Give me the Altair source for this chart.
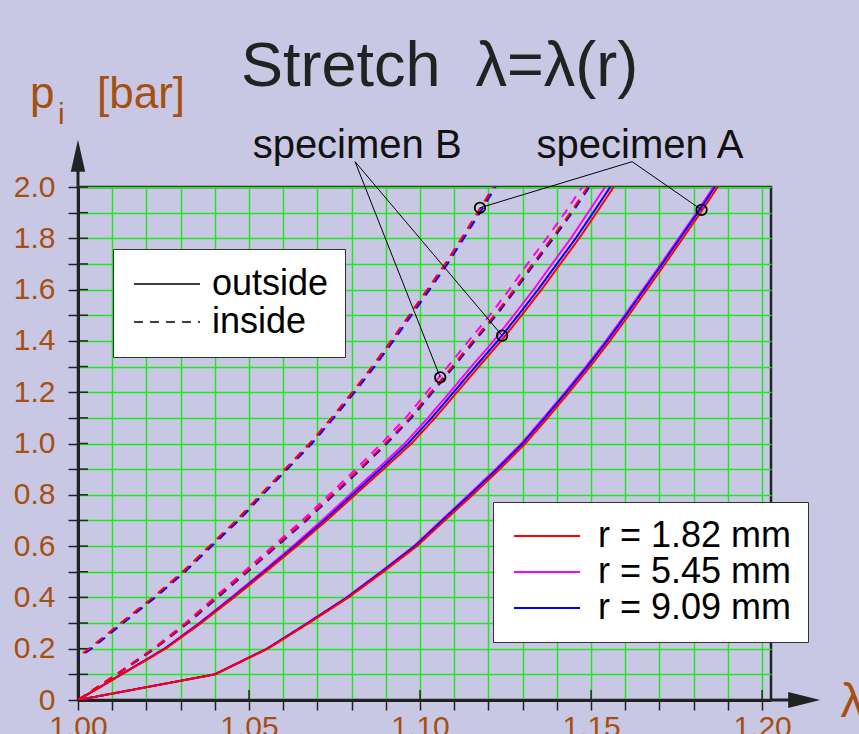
import altair as alt
import pandas as pd

# Inflation pressure p_i [bar] at which the stretch was evaluated
P = [0.0, 0.1, 0.2, 0.3, 0.4, 0.5, 0.6, 0.7, 0.8, 0.9, 1.0,
     1.1, 1.2, 1.3, 1.4, 1.5, 1.6, 1.7, 1.8, 1.9, 2.0]

RADII = ["r = 1.82 mm", "r = 5.45 mm", "r = 9.09 mm"]
RADIUS_COLORS = ["#ff0000", "#ff00ff", "#0000ff"]
SIDES = ["outside", "inside"]

# Stretch lambda per pressure step -- specimen A, inside surface
A_IN_182 = [0.9825, 0.9925, 1.0032, 1.0125, 1.0219, 1.0306, 1.0384, 1.0463, 1.0533, 1.0605, 1.0677,
            1.0741, 1.0802, 1.0860, 1.0915, 1.0968, 1.1021, 1.1073, 1.1121, 1.1168, 1.1214]
A_IN_545 = [0.9828, 0.9928, 1.0035, 1.0128, 1.0222, 1.0309, 1.0387, 1.0466, 1.0536, 1.0608, 1.0680,
            1.0744, 1.0805, 1.0863, 1.0918, 1.0971, 1.1024, 1.1076, 1.1124, 1.1171, 1.1217]
A_IN_909 = [0.9832, 0.9932, 1.0039, 1.0132, 1.0226, 1.0313, 1.0391, 1.0470, 1.0540, 1.0612, 1.0684,
            1.0748, 1.0809, 1.0867, 1.0922, 1.0975, 1.1028, 1.1080, 1.1128, 1.1175, 1.1221]

# specimen A, outside surface
A_OUT_182 = [1.0000, 1.0401, 1.0555, 1.0675, 1.0791, 1.0893, 1.0991, 1.1072, 1.1154, 1.1233, 1.1308,
             1.1373, 1.1436, 1.1497, 1.1555, 1.1610, 1.1663, 1.1716, 1.1768, 1.1820, 1.1870]
A_OUT_545 = [1.0000, 1.0399, 1.0552, 1.0670, 1.0785, 1.0885, 1.0982, 1.1062, 1.1142, 1.1221, 1.1296,
             1.1361, 1.1424, 1.1485, 1.1543, 1.1598, 1.1651, 1.1704, 1.1756, 1.1808, 1.1858]
A_OUT_909 = [1.0000, 1.0400, 1.0553, 1.0672, 1.0787, 1.0888, 1.0985, 1.1065, 1.1146, 1.1225, 1.1300,
             1.1365, 1.1428, 1.1489, 1.1547, 1.1602, 1.1655, 1.1708, 1.1760, 1.1812, 1.1862]

# specimen B, inside surface
B_IN_182 = [1.0000, 1.0113, 1.0222, 1.0318, 1.0404, 1.0491, 1.0577, 1.0663, 1.0743, 1.0822, 1.0898,
            1.0970, 1.1032, 1.1094, 1.1155, 1.1218, 1.1275, 1.1329, 1.1385, 1.1440, 1.1490]
B_IN_545 = [1.0000, 1.0111, 1.0219, 1.0314, 1.0399, 1.0485, 1.0570, 1.0655, 1.0734, 1.0812, 1.0887,
            1.0958, 1.1020, 1.1081, 1.1142, 1.1204, 1.1261, 1.1314, 1.1370, 1.1424, 1.1474]
B_IN_909 = [1.0000, 1.0115, 1.0225, 1.0322, 1.0409, 1.0496, 1.0582, 1.0668, 1.0748, 1.0827, 1.0903,
            1.0975, 1.1037, 1.1099, 1.1160, 1.1223, 1.1280, 1.1334, 1.1390, 1.1445, 1.1495]

# specimen B, outside surface
B_OUT_182 = [1.0000, 1.0128, 1.0256, 1.0360, 1.0456, 1.0549, 1.0640, 1.0727, 1.0810, 1.0893, 1.0975,
             1.1044, 1.1108, 1.1172, 1.1237, 1.1297, 1.1355, 1.1410, 1.1465, 1.1516, 1.1566]
B_OUT_545 = [1.0000, 1.0126, 1.0252, 1.0354, 1.0448, 1.0539, 1.0628, 1.0713, 1.0794, 1.0875, 1.0955,
             1.1023, 1.1087, 1.1150, 1.1215, 1.1274, 1.1332, 1.1386, 1.1441, 1.1491, 1.1541]
B_OUT_909 = [1.0000, 1.0127, 1.0254, 1.0357, 1.0452, 1.0544, 1.0634, 1.0720, 1.0802, 1.0884, 1.0965,
             1.1034, 1.1098, 1.1162, 1.1227, 1.1287, 1.1345, 1.1400, 1.1455, 1.1506, 1.1556]

# Marked points referred to by the specimen labels
MARK_SPEC = ["A", "A", "B", "B"]
MARK_LAM = [1.1175, 1.1823, 1.1059, 1.1240]
MARK_P = [1.919, 1.911, 1.258, 1.4206]

# Specimen labels and the point where their leader lines meet
SPEC_NAMES = ["specimen A", "specimen B"]
SPEC_TEXT_LAM = [1.1643, 1.0816]
SPEC_TEXT_P = [2.114, 2.114]
SPEC_APEX_LAM = [1.1620, 1.0810]
SPEC_APEX_P = [2.0987, 2.0987]

X_TICKS = [1.00, 1.01, 1.02, 1.03, 1.04, 1.05, 1.06, 1.07, 1.08, 1.09, 1.10,
           1.11, 1.12, 1.13, 1.14, 1.15, 1.16, 1.17, 1.18, 1.19, 1.20]
X_MAJOR = [1.00, 1.05, 1.10, 1.15, 1.20]
Y_TICKS = [0.0, 0.1, 0.2, 0.3, 0.4, 0.5, 0.6, 0.7, 0.8, 0.9, 1.0,
           1.1, 1.2, 1.3, 1.4, 1.5, 1.6, 1.7, 1.8, 1.9, 2.0]
X_MIN, X_MAX = 1.0, 1.2026
Y_MIN, Y_MAX = 0.0, 2.0

TITLE = "Stretch\u00a0\u00a0λ=λ(r)"

FONT = "Liberation Sans"
BROWN = "#A64F12"
INK = "#222222"
GRID = "#22E622"
BG = "#C9C8E4"

curves = {
    ("A", "inside"): [A_IN_182, A_IN_545, A_IN_909],
    ("A", "outside"): [A_OUT_182, A_OUT_545, A_OUT_909],
    ("B", "inside"): [B_IN_182, B_IN_545, B_IN_909],
    ("B", "outside"): [B_OUT_182, B_OUT_545, B_OUT_909],
}
rows = []
for (spec, side), series in curves.items():
    for radius, lams in zip(RADII, series):
        for p, lam in zip(P, lams):
            rows.append({"lam": lam, "p": p, "radius": radius, "side": side,
                         "curve": f"{spec}-{side}-{radius}"})
lines_df = pd.DataFrame(rows)

xscale = alt.Scale(domain=[X_MIN, X_MAX], nice=False, zero=False)
yscale = alt.Scale(domain=[Y_MIN, Y_MAX], nice=False, zero=False)

xaxis = alt.Axis(
    values=X_TICKS,
    labelExpr="(round(datum.value * 100) % 5 == 0) ? format(datum.value, '.2f') : ''",
    tickSize=10, labelPadding=2, labelOverlap=False, labelFlush=False, labelBound=False,
    grid=True, title="λ", titleX=762, titleY=16, titleAlign="left",
    titleBaseline="alphabetic", titleFontSize=48, titleColor=BROWN,
    titleFont=FONT, titleFontWeight="normal",
)
yaxis = alt.Axis(
    values=Y_TICKS,
    labelExpr="datum.value == 0 ? '0' : (round(datum.value * 10) % 2 == 0 ? format(datum.value, '.1f') : '')",
    tickSize=10, labelPadding=13, labelOverlap=False, labelFlush=False, labelBound=False,
    grid=True, title=None,
)


def X(field):
    return alt.X(field, type="quantitative", scale=xscale, axis=xaxis)


def Y(field):
    return alt.Y(field, type="quantitative", scale=yscale, axis=yaxis)


color = alt.Color(
    "radius:N",
    scale=alt.Scale(domain=RADII, range=RADIUS_COLORS),
    legend=alt.Legend(
        title=None, orient="none", legendX=415, legendY=315,
        fillColor="white", strokeColor="#333333", padding=16,
        labelFontSize=36, labelFont=FONT, labelColor="black", labelLimit=400,
        symbolType="stroke", symbolSize=4356, symbolStrokeWidth=2,
        symbolOffset=4, labelOffset=17, rowPadding=0, clipHeight=36,
    ),
)
dash = alt.StrokeDash(
    "side:N",
    scale=alt.Scale(domain=SIDES, range=[[1, 0], [9, 7]]),
    legend=alt.Legend(
        title=None, orient="none", legendX=35, legendY=62,
        fillColor="white", strokeColor="#333333", padding=16,
        labelFontSize=36, labelFont=FONT, labelColor="black",
        symbolType="stroke", symbolSize=4356, symbolStrokeWidth=1.5,
        symbolStrokeColor="black", symbolOffset=4, labelOffset=11,
        rowPadding=0, clipHeight=38,
    ),
)

# magenta first, then blue, red on top
line_layers = []
for radius in [RADII[1], RADII[2], RADII[0]]:
    line_layers.append(
        alt.Chart(lines_df[lines_df.radius == radius])
        .mark_line(strokeWidth=2, clip=True)
        .encode(x=X("lam"), y=Y("p"), color=color, strokeDash=dash,
                detail="curve:N", order="p:Q")
    )

marks_df = pd.DataFrame({"spec": MARK_SPEC, "lam": MARK_LAM, "p": MARK_P})
spec_df = pd.DataFrame({
    "spec": ["A", "B"], "name": SPEC_NAMES,
    "tlam": SPEC_TEXT_LAM, "tp": SPEC_TEXT_P,
    "alam": SPEC_APEX_LAM, "ap": SPEC_APEX_P,
})
leaders_df = marks_df.merge(spec_df, on="spec")

leaders = alt.Chart(leaders_df).mark_rule(color="black", strokeWidth=1).encode(
    x=X("alam"), y=Y("ap"), x2="lam", y2="p")
circles = alt.Chart(marks_df).mark_point(
    shape="circle", size=110, filled=False, color="black", strokeWidth=1.8, opacity=1
).encode(x=X("lam"), y=Y("p"))
spec_text = alt.Chart(spec_df).mark_text(
    font=FONT, fontSize=40, color="#111111", align="center", baseline="alphabetic"
).encode(x=X("tlam"), y=Y("tp"), text="name:N")

# heading
title_df = pd.DataFrame({"t": [TITLE], "lam": [1.1057], "p": [2.3952]})
heading = alt.Chart(title_df).mark_text(
    font=FONT, fontSize=63, color=INK, align="center", baseline="alphabetic"
).encode(x=X("lam"), y=Y("p"), text="t:N")

# y-axis caption  p_i [bar]
cap_df = pd.DataFrame({
    "t": ["p", "i", "[bar]"],
    "lam": [0.98596, 0.99415, 1.00556],
    "p": [2.3094, 2.2469, 2.3094],
    "size": [44, 30, 44],
})
caption = alt.Chart(cap_df).mark_text(
    font=FONT, color=BROWN, align="left", baseline="alphabetic"
).encode(x=X("lam"), y=Y("p"), text="t:N",
         size=alt.Size("size:Q", scale=None, legend=None))

# inner halves of the axis ticks
ytick_df = pd.DataFrame({"a": [X_MIN] * len(Y_TICKS), "b": [1.0029] * len(Y_TICKS), "p": Y_TICKS})
yticks_in = alt.Chart(ytick_df).mark_rule(color=INK, strokeWidth=1.5).encode(
    x=X("a"), x2="b", y=Y("p"))
xtick_df = pd.DataFrame({"lam": X_MAJOR, "a": [Y_MIN] * len(X_MAJOR), "b": [0.039] * len(X_MAJOR)})
xticks_in = alt.Chart(xtick_df).mark_rule(color=INK, strokeWidth=1.5).encode(
    x=X("lam"), y=Y("a"), y2="b")

# axis lines continue past the frame and end in arrow heads
ext_df = pd.DataFrame({"x1": [X_MIN, X_MAX], "y1": [Y_MAX, Y_MIN],
                       "x2": [X_MIN, 1.2105], "y2": [2.115, Y_MIN]})
axis_ext = alt.Chart(ext_df).mark_rule(color=INK, strokeWidth=3).encode(
    x=X("x1"), y=Y("y1"), x2="x2", y2="y2")
arrow_up = alt.Chart(pd.DataFrame({"lam": [X_MIN], "p": [2.1221]})).mark_point(
    shape="M0,-1L0.45,1L-0.45,1Z", size=1024, filled=True, color=INK, opacity=1
).encode(x=X("lam"), y=Y("p"))
arrow_right = alt.Chart(pd.DataFrame({"lam": [1.2123], "p": [Y_MIN]})).mark_point(
    shape="M1,0L-1,0.5L-1,-0.5Z", size=1024, filled=True, color=INK, opacity=1
).encode(x=X("lam"), y=Y("p"))

chart = alt.layer(
    yticks_in, xticks_in, *line_layers, leaders, circles, spec_text, heading, caption,
    axis_ext, arrow_up, arrow_right
).properties(
    width=693, height=513,
    padding={"left": 78, "top": 187, "right": 88, "bottom": 34},
    autosize=alt.AutoSizeParams(type="none"),
    background=BG,
).configure_view(
    stroke=INK, strokeWidth=2.5
).configure_axis(
    domainColor=INK, domainWidth=3, tickColor=INK, tickWidth=1.5,
    gridColor=GRID, gridWidth=1.5, gridOpacity=1,
    labelFont=FONT, labelFontSize=30, labelColor=BROWN,
)

chart.save("out.html", embed_options={"renderer": "svg", "actions": False})
